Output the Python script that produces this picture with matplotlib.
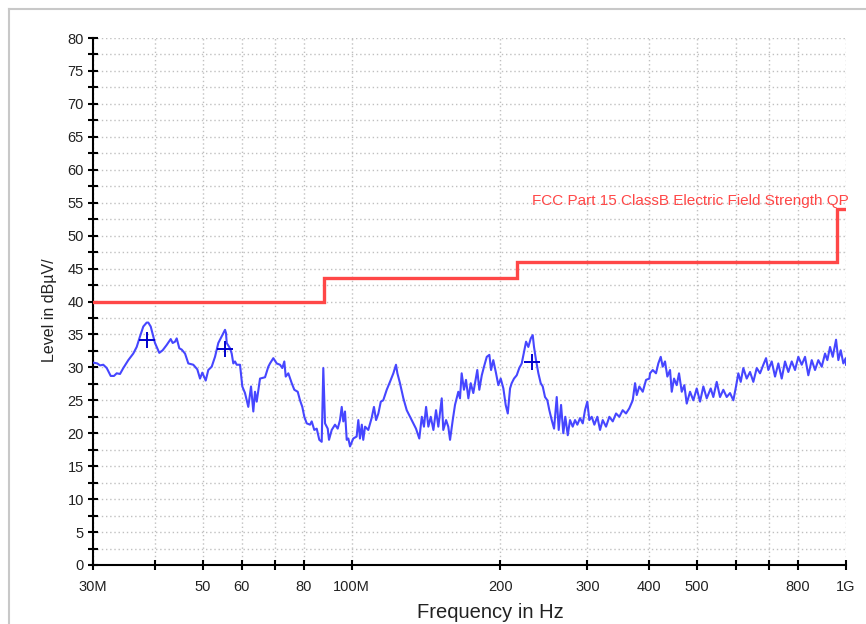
import matplotlib
matplotlib.use("Agg")
import matplotlib.pyplot as plt
from matplotlib.lines import Line2D
from matplotlib.ticker import FixedLocator, NullFormatter, MultipleLocator

plt.rcParams['font.family'] = ['Liberation Sans', 'DejaVu Sans']

# ---- data ----
trace_freq_mhz = [
    30.14, 30.61, 30.99, 31.47, 31.98, 32.58, 33.08, 33.50, 34.02, 34.55,
    35.36, 36.19, 36.77, 37.34, 37.92, 38.52, 38.81, 39.25, 40.04, 40.85,
    41.50, 42.28, 43.08, 43.48, 43.95, 44.30, 44.84, 45.34, 46.05, 46.76,
    47.86, 48.76, 49.38, 49.91, 50.71, 51.32, 52.14, 52.95, 53.77, 54.63,
    55.48, 55.73, 55.92,
    56.78, 57.23, 57.66, 58.12, 58.58, 59.49, 60.13, 60.89, 61.83, 62.62,
    63.29, 63.79, 64.30, 65.30, 66.84, 67.87, 68.41, 69.47, 70.58, 71.67,
    72.44, 73.12, 73.60, 74.50, 75.69, 76.61, 77.83, 78.67, 79.51, 80.26,
    81.16, 82.42, 83.07, 84.08, 85.03, 86.06, 87.03, 87.68, 88.38, 89.50,
    90.04, 91.18, 92.59, 93.76, 94.77, 95.53, 96.24, 97.00, 97.78, 98.51,
    99.29, 100.8, 102.4, 103.2, 104.0, 104.9, 105.6,
    106.5, 108.1, 109.8, 111.0, 112.1, 113.3, 114.6, 115.9, 117.8, 119.6,
    121.5, 123.0, 123.8, 125.3, 127.3, 129.3, 131.3, 133.3, 135.0, 137.1,
    138.7, 140.1, 141.5, 143.0, 144.6, 146.4, 148.2, 149.8, 152.2, 153.3,
    155.3, 156.9, 158.2, 160.2, 161.9, 164.4, 165.7, 167.0, 168.8, 170.4,
    172.3, 174.2, 176.3, 177.7, 179.6, 181.3, 183.4, 185.3, 187.7, 190.0,
    191.5, 193.5, 196.0, 198.1, 200.3, 202.8, 205.0, 207.0, 209.2,
    210.8, 213.1, 215.8, 218.4, 220.9, 223.3, 225.4, 227.8, 230.4, 232.5,
    233.9, 236.1, 238.7, 241.3, 243.6, 246.2, 248.9, 251.2, 254.0, 256.8,
    260.0, 262.4, 265.3, 268.1, 270.6, 273.7, 276.6, 280.1, 283.1, 286.2,
    289.8, 293.5, 296.6, 299.8, 302.6, 306.0, 309.8, 314.1, 318.1, 322.1,
    327.1, 332.2, 337.5, 342.7, 348.0, 353.5, 359.0, 364.6, 370.4, 374.4,
    377.4, 382.0, 388.1, 394.1, 400.2,
    401.5, 406.6, 412.8, 417.3, 422.0, 425.9, 430.5, 435.2, 440.7, 444.2,
    449.0, 454.6, 459.5, 465.4, 471.0, 476.3, 483.7, 491.2, 499.0, 506.8,
    514.6, 522.8, 532.6, 539.1, 547.7, 556.2, 564.8, 573.8, 582.7, 591.8,
    599.2, 605.7, 612.5, 619.9, 629.8, 639.6, 649.5, 659.9, 670.1, 680.5,
    689.1, 696.5, 707.6, 718.6, 729.7, 741.3, 752.8, 764.5, 776.7, 788.7,
    800.9, 813.7, 826.3, 839.1, 852.5, 865.7, 879.1, 893.2, 907.0, 916.8,
    928.4, 940.1, 954.7, 965.0, 975.8, 987.7, 998.8, 1000.0,
]
trace_level = [
    30.7, 30.6, 30.3, 30.4, 29.9, 28.7, 28.7, 29.1, 29.0, 29.9,
    31.1, 32.1, 33.1, 34.7, 36.2, 36.8, 36.8, 36.2, 33.7, 32.2,
    32.6, 33.4, 34.3, 33.7, 33.9, 34.4, 32.9, 32.7, 32.1, 30.6,
    30.4, 29.7, 28.3, 29.2, 28.0, 29.6, 30.1, 31.6, 33.7, 34.7,
    35.7, 35.2, 33.7,
    32.9, 32.1, 30.6, 30.9, 30.4, 30.4, 27.1, 26.1, 24.0, 27.1,
    23.3, 26.3, 24.8, 28.3, 28.5, 30.1, 30.6, 31.4, 30.6, 30.4,
    29.9, 30.9, 28.6, 29.1, 27.6, 26.6, 26.3, 25.0, 24.0, 22.5,
    21.5, 21.3, 21.8, 20.5, 20.7, 19.0, 18.7, 29.9, 21.5, 20.7,
    19.0, 20.5, 21.3, 20.7, 22.0, 24.0, 21.8, 23.3, 19.0, 19.2,
    18.0, 19.2, 19.5, 22.0, 19.2, 21.3, 19.0,
    21.0, 20.5, 22.3, 24.0, 22.0, 23.0, 24.8, 25.0, 26.6, 27.8,
    29.1, 30.4, 29.1, 27.6, 25.3, 23.5, 22.5, 21.5, 20.7, 19.2,
    22.5, 21.0, 24.0, 21.0, 22.5, 20.5, 23.5, 21.0, 25.3, 20.5,
    22.0, 21.0, 19.0, 22.0, 24.3, 26.3, 25.3, 29.1, 26.6, 28.1,
    25.3, 27.6, 26.1, 27.6, 29.6, 26.6, 28.8, 30.1, 31.6, 31.9,
    29.6, 31.1, 29.1, 27.3, 28.3, 26.8, 24.3, 23.0, 26.8,
    27.6, 28.3, 28.8, 29.9, 30.6, 32.4, 33.9, 33.1, 34.4, 34.9,
    33.1, 31.1, 29.1, 27.6, 27.1, 25.5, 25.0, 23.5, 22.0, 20.7,
    25.5, 20.5, 24.3, 20.0, 22.5, 19.7, 22.0, 21.0, 22.0, 21.3,
    22.3, 21.5, 23.5, 24.8, 22.0, 22.5, 21.3, 22.5, 20.5, 22.0,
    21.0, 22.5, 21.8, 23.0, 22.5, 23.5, 23.0, 23.8, 25.0, 27.6,
    25.8, 27.1, 26.3, 28.1, 28.3,
    29.1, 29.6, 29.1, 30.6, 31.6, 30.1, 30.9, 28.6, 29.6, 26.3,
    28.3, 27.3, 29.1, 26.3, 27.3, 24.5, 26.3, 25.0, 26.8, 24.8,
    27.1, 25.3, 26.8, 25.5, 27.8, 25.5, 26.6, 25.5, 26.1, 25.0,
    27.1, 29.1, 27.8, 29.9, 28.3, 29.3, 27.8, 29.9, 29.1, 30.4,
    31.4, 29.6, 30.9, 28.6, 30.6, 28.3, 30.9, 29.3, 30.9, 29.6,
    31.6, 30.4, 31.6, 28.8, 31.1, 29.6, 31.1, 30.1, 32.1, 31.1,
    33.1, 31.6, 34.2, 31.1, 32.6, 30.6, 31.4, 30.4,
]

limit_freq_mhz = [30, 88, 216, 960, 1000]
limit_level = [40, 43.5, 46, 54, 54]
limit_label = "FCC Part 15 ClassB Electric Field Strength QP"

marker_freq_mhz = [38.65, 55.5, 231.8]
marker_level = [34.2, 32.8, 30.8]

xtick_values = [30, 40, 50, 60, 70, 80, 100, 200, 300, 400, 500, 600, 700, 800, 1000]
xtick_labels = ["30M", "", "50", "60", "", "80", "100M", "200", "300", "400", "500", "", "", "800", "1G"]

# ---- figure ----
W, H = 866, 624
fig = plt.figure(figsize=(W / 100, H / 100), dpi=100)
ax = fig.add_axes([93 / W, (H - 565) / H, 753 / W, 527 / H])

# outer light frame
fig.add_artist(Line2D([8.5 / W, 8.5 / W], [0, 1 - 8.5 / H], transform=fig.transFigure,
                      color="#c8c8c8", lw=1.5))
fig.add_artist(Line2D([8.5 / W, 1], [1 - 8.5 / H, 1 - 8.5 / H], transform=fig.transFigure,
                      color="#c8c8c8", lw=1.5))

ax.set_xscale("log")
ax.set_xlim(30, 1000)
ax.set_ylim(0, 80)

ax.xaxis.set_major_locator(FixedLocator(xtick_values))
ax.xaxis.set_minor_locator(FixedLocator([]))
ax.set_xticks(xtick_values)
ax.set_xticklabels(xtick_labels)
ax.xaxis.set_minor_formatter(NullFormatter())
ax.yaxis.set_major_locator(MultipleLocator(5))
ax.yaxis.set_minor_locator(MultipleLocator(2.5))

ax.grid(True, which="major", axis="x", color="#c0c0c0", linestyle=(0, (1, 2)), lw=1)
ax.grid(True, which="both", axis="y", color="#c0c0c0", linestyle=(0, (1, 2)), lw=1)
ax.set_axisbelow(True)

for s in ["top", "right"]:
    ax.spines[s].set_visible(False)
for s in ["left", "bottom"]:
    ax.spines[s].set_linewidth(1.5)
    ax.spines[s].set_color("black")

ax.tick_params(axis="y", which="both", direction="inout", length=7, width=1.5,
               labelsize=10.5, pad=3, colors="black")
ax.tick_params(axis="x", which="major", direction="inout", length=7, width=1.5,
               labelsize=10.5, pad=7, colors="black")
for lbl in ax.get_xticklabels() + ax.get_yticklabels():
    lbl.set_color("#222222")

# limit line
ax.step(limit_freq_mhz, limit_level, where="post", color="#ff4747", lw=2.4,
        solid_joinstyle="miter", zorder=3)
ax.text(1.003, 54.6, limit_label, transform=ax.get_yaxis_transform(),
        ha="right", va="baseline", color="#ff4747", fontsize=11, clip_on=False)

# measured trace
ax.plot(trace_freq_mhz, trace_level, color="#4646ff", lw=1.5, zorder=4)

# peak markers
ax.plot(marker_freq_mhz, marker_level, linestyle="none", marker="+", ms=11,
        mew=1.4, color="#0000cc", zorder=5)

ax.set_ylabel("Level in dBµV/", fontsize=11.5, color="#222222")
ax.yaxis.set_label_coords((57 - 93) / 753, (565 - 310) / 527)
ax.set_xlabel("Frequency in Hz", fontsize=14.5, color="#222222")
ax.xaxis.set_label_coords((490 - 93) / 753, (565 - 612) / 527)
ax.xaxis.label.set_va("center")

fig.savefig("out.png", dpi=100)
